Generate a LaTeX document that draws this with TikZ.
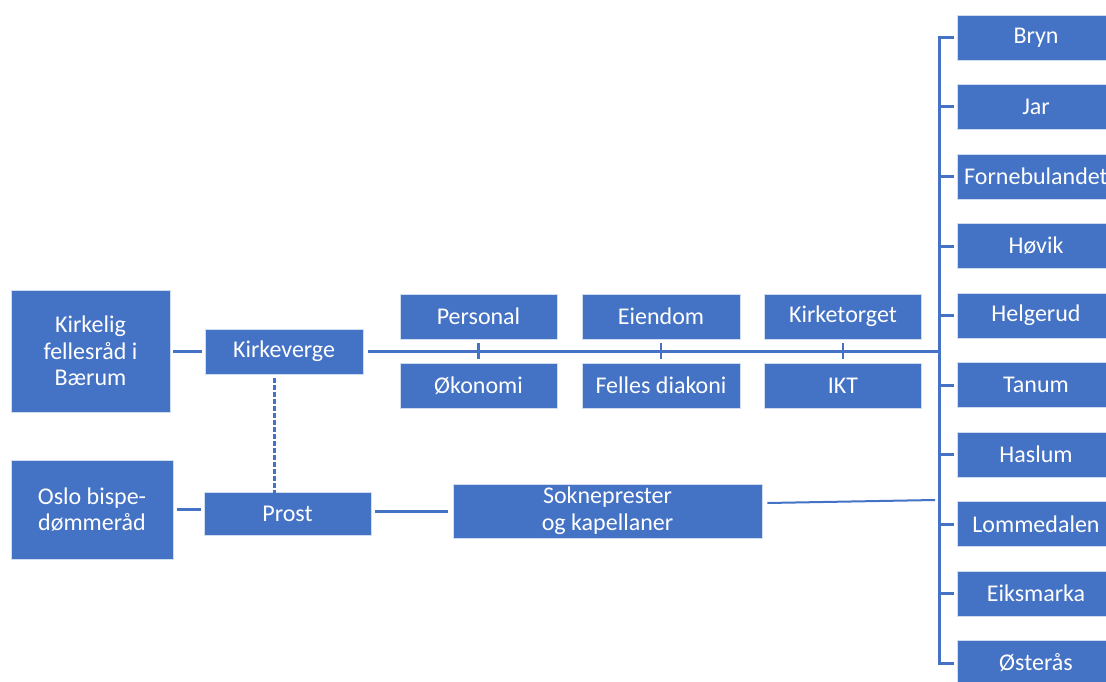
\documentclass[tikz,border=0pt]{standalone}
\usepackage{fontspec}
\setmainfont{Carlito}
\definecolor{boxblue}{HTML}{4472C4}
\tikzset{
    orgbox/.style={fill=boxblue, draw=white!75!boxblue, line width=0.8pt, text=white,
        inner sep=0pt, align=center, minimum width=157pt, minimum height=45pt,
        font=\fontsize{24}{26.7}\selectfont},
    link/.style={draw=boxblue, line width=3pt},
    dashlink/.style={link, dash pattern=on 5pt off 2pt},
}
\begin{document}
\begin{tikzpicture}[x=1pt, y=-1pt]
            \useasboundingbox (0,0) rectangle (1106,682);

            \node [orgbox, minimum width=159pt, minimum height=122pt] (fr) at (90.5,351) {Kirkelig\\fellesråd i\\Bærum};
            \node [orgbox, minimum width=162pt, minimum height=99pt] (obd) at (92,509.5) {Oslo bispe-\\dømmeråd};
            \node [orgbox, minimum width=158pt] (kv) at (284,351.5) {Kirkeverge};
            \node [orgbox, minimum width=167pt, minimum height=43pt] (pr) at (287.5,513.5) {Prost};
            \node [orgbox, minimum width=309pt, minimum height=54pt] (sk) at (607.5,511) {Sokneprester\\og kapellaner};

            \node [orgbox] (per) at (478.5,316.5) {Personal};
            \node [orgbox] (oko) at (478.5,385.5) {Økonomi};
            \node [orgbox, minimum width=158pt] (eie) at (661,316.5) {Eiendom};
            \node [orgbox, minimum width=158pt] (dia) at (661,385.5) {Felles diakoni};
            \node [orgbox] (kto) at (843,316.5) {Kirketorget};
            \node [orgbox] (ikt) at (843,385.5) {IKT};

            % menigheter
            \foreach \name [count=\i from 0] in {Bryn, Jar, Fornebulandet, Høvik, Helgerud, Tanum, Haslum, Lommedalen, Eiksmarka, Østerås}
                \node [orgbox, minimum width=158pt] (m\i) at (1036,37.5+69.5*\i) {\name};

            \coordinate (bus) at (939,0);

            \draw [link, shorten <=3pt, shorten >=3pt] (fr.east |- kv.west) -- (kv.west);
            \draw [link, shorten <=4pt, shorten >=3pt] (obd.east) -- (obd.east -| pr.west);
            \draw [link, shorten <=4pt, shorten >=5pt] (pr.east |- sk.west) -- (sk.west);
            \draw [dashlink] ([xshift=-10pt,yshift=-4pt]kv.south) -- ([xshift=-10pt,yshift=-4pt]kv.south |- pr.north);

            \draw [link, shorten <=5pt] (kv.east) -- (kv.east -| bus);
            \foreach \a/\b in {per/oko, eie/dia, kto/ikt}
                \draw [link, line width=2.5pt, shorten <=4pt, shorten >=4pt] (\a.south) -- (\b.north);

            \draw [link, line width=2pt] ([shift={(5pt,8pt)}]sk.east) -- ([xshift=-4pt]bus |- 0,500);

            \draw [link] ([xshift=-3pt]m0.west) -- (bus |- m0.west) -- (bus |- m9.west) -- ([xshift=-3pt]m9.west);
            \foreach \i in {1,...,8}
                \draw [link] ([xshift=-3pt]m\i.west) -- (bus |- m\i.west);
        \end{tikzpicture}
\end{document}
